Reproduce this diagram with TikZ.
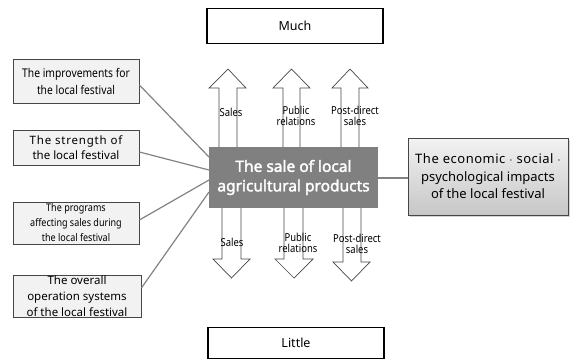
\documentclass[tikz,border=0pt]{standalone}
\usepackage{fontspec}
\setmainfont{Noto Sans}
\newfontfamily\ctrfont{Noto Sans}[FakeBold=2.2]
\newfontfamily\narrowfont{Noto Sans}[FakeStretch=0.86]
\usetikzlibrary{shadows}
\definecolor{boxgray}{RGB}{128,128,128}
\definecolor{lightfill}{RGB}{242,242,242}
\definecolor{linegray}{RGB}{130,130,130}
\definecolor{edgegray}{RGB}{70,70,70}
\begin{document}
\begin{tikzpicture}[x=1pt,y=-1pt,
  leftbox/.style={draw=edgegray, line width=0.8pt, fill=lightfill, align=center, inner sep=0pt},
  scalebox/.style={draw=black, line width=1.8pt, fill=white, font=\fontsize{12.5}{14}\selectfont},
  fatarrow/.style={draw=edgegray, line width=0.7pt, fill=white},
  arrlabel/.style={align=center, inner sep=0pt, font=\narrowfont\fontsize{11}{11.5}\selectfont},
  conn/.style={draw=linegray, line width=1.2pt}
]
\useasboundingbox (0,0) rectangle (573,360);

% scale boxes
\node[scalebox, minimum width=176pt, minimum height=35pt] (much) at (295,26) {Much};
\node[scalebox, minimum width=176pt, minimum height=31pt] (little) at (296,343) {Little};

% up arrows
\draw[fatarrow] (219,147) -- (219,88) -- (209,88) -- (228,69) -- (246,88) -- (237,88) -- (237,147);
\draw[fatarrow] (283,147) -- (283,88) -- (273,88) -- (291.5,69) -- (310,88) -- (300,88) -- (300,147);
\draw[fatarrow] (341,147) -- (341,88) -- (332,88) -- (350,69) -- (368,88) -- (359,88) -- (359,147);
% down arrows
\draw[fatarrow] (222,208) -- (222,259) -- (213,259) -- (231.5,278) -- (250,259) -- (241,259) -- (241,208);
\draw[fatarrow] (284,208) -- (284,259) -- (275,259) -- (294,278) -- (313,259) -- (303,259) -- (303,208);
\draw[fatarrow] (343,208) -- (343,262) -- (333,262) -- (351.5,281) -- (370,262) -- (361,262) -- (361,208);

% central box
\node[fill=boxgray, minimum width=169pt, minimum height=61pt, align=center, text=white,
  font=\ctrfont\fontsize{15.5}{19.5}\selectfont] (sale) at (293.5,177.5) {The sale of local\\agricultural products};

% arrow labels
\node[arrlabel] (u1) at (231,112) {Sales};
\node[arrlabel] (u2) at (296,116) {Public\\relations};
\node[arrlabel] (u3) at (355,116) {Post-direct\\sales};
\node[arrlabel] (d1) at (232,242) {Sales};
\node[arrlabel] (d2) at (298,243) {Public\\relations};
\node[arrlabel] (d3) at (357,244) {Post-direct\\sales};

% left boxes
\node[leftbox, minimum width=126pt, minimum height=44pt, font=\narrowfont\fontsize{12}{17}\selectfont] (b1) at (76,81) {The improvements for\\the local festival};
\node[leftbox, minimum width=126pt, minimum height=35pt, font=\fontsize{11.5}{15.5}\selectfont] (b2) at (76,147.5) {\addfontfeature{LetterSpace=7}The strength of\\the local festival};
\node[leftbox, minimum width=126pt, minimum height=42pt, font=\narrowfont\fontsize{10.5}{15}\selectfont] (b3) at (76,223) {The programs\\affecting sales during\\the local festival};
\node[leftbox, minimum width=128pt, minimum height=42pt, font=\fontsize{11.5}{16}\selectfont] (b4) at (77,296) {The overall\\operation systems\\of the local festival};

% right box
\node[draw=edgegray, line width=0.7pt, top color=white!95!black, bottom color=white!78!black,
  drop shadow={shadow xshift=2pt, shadow yshift=-2pt, opacity=0.35},
  minimum width=160pt, minimum height=77pt, align=center, inner sep=0pt,
  font=\fontsize{13}{17.5}\selectfont] (impact) at (488,176.5)
  {\addfontfeature{LetterSpace=4}The economic $\cdot$ social $\cdot$\\psychological impacts\\of the local festival};

% connectors
\coordinate (e1) at (209,157);
\coordinate (e2) at (209,170);
\coordinate (e3) at (209,180);
\coordinate (e4) at (209,192);
\draw[conn] (b1.east |- 0,85) -- (e1);
\draw[conn] (b2.east |- 0,152) -- (e2);
\draw[conn] (b3.east |- 0,220) -- (e3);
\draw[conn] (b4.east |- 0,288) -- (e4);
\draw[conn] (sale.east |- 0,178) -- (impact.west |- 0,178);
\end{tikzpicture}
\end{document}
